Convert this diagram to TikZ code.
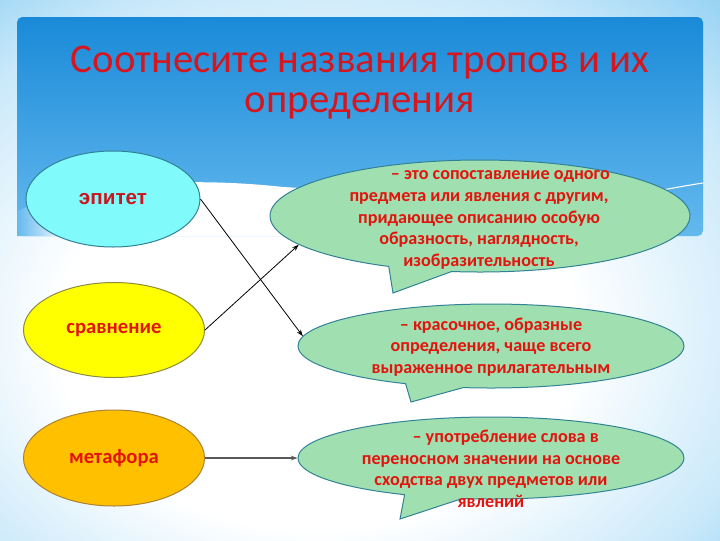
\documentclass[tikz,border=0pt]{standalone}
\usepackage{fontspec}
\setmainfont{Carlito}
\newfontfamily\arialish{Liberation Sans}
\usetikzlibrary{shapes.geometric,shapes.callouts,arrows.meta}

\definecolor{titlered}{RGB}{214,22,30}
\definecolor{txtred}{RGB}{226,20,14}
\definecolor{epred}{RGB}{200,22,32}
\definecolor{bgblue}{RGB}{92,186,236}
\definecolor{bgmid}{RGB}{200,232,250}
\definecolor{bandtop}{RGB}{26,138,216}
\definecolor{bandlow}{RGB}{100,185,238}
\definecolor{epcyan}{RGB}{128,250,250}
\definecolor{cmpyel}{RGB}{255,255,0}
\definecolor{metorange}{RGB}{255,192,0}
\definecolor{defgreen}{RGB}{160,224,176}
\definecolor{edgeteal}{RGB}{50,130,150}
\definecolor{edgeolive}{RGB}{140,140,60}
\definecolor{edgeamber}{RGB}{170,130,50}

\pgfdeclareradialshading{bgshade}{\pgfpoint{-4bp}{-8bp}}{color(0bp)=(white); color(18bp)=(white); color(32bp)=(bgmid); color(48bp)=(bgblue); color(72bp)=(bgblue)}
\pgfdeclarehorizontalshading{waveshade}{100bp}{color(0bp)=(bandlow); color(25bp)=(bandlow); color(29bp)=(white); color(100bp)=(white)}

\tikzset{
  trope/.style={ellipse, draw, line width=0.75pt, text=txtred, inner sep=0pt,
    font=\bfseries\fontsize{15.5}{17}\selectfont},
  defn/.style={ellipse callout, draw=edgeteal, fill=defgreen, line width=0.75pt,
    inner sep=0pt, callout pointer arc=18},
  deftext/.style={align=center, text=txtred, inner sep=0pt,
    font=\bfseries\fontsize{13.6}{16.2}\selectfont},
  conn/.style={line width=0.6pt, draw=black, -{Stealth[length=5pt,width=3.5pt]}},
  connb/.style={line width=1.1pt, draw=black!65, -{Stealth[length=5pt,width=3.5pt]}}
}

\begin{document}
\begin{tikzpicture}[x=0.75pt,y=-0.75pt]
\useasboundingbox (0,0) rectangle (720,540);
\shade[shading=bgshade] (0,0) rectangle (720,540);

% top band
\shade[top color=bandtop, bottom color=bandlow, rounded corners=4] (17,17) rectangle (703,236);
\shade[shading=waveshade] (17,236) -- (17,212) .. controls (60,186) and (200,170) .. (330,194)
   .. controls (440,214) and (560,236) .. (650,236) -- cycle;
\draw[white, line width=0.8pt] (215,186) .. controls (330,186) and (420,200) .. (470,207);
\draw[white, line width=0.8pt] (570,210) .. controls (620,198) and (670,188) .. (703,183);

\node[font=\fontsize{30.6}{30}\selectfont, text=titlered, align=center] (title) at (360,83)
  {Соотнесите названия тропов и их\\определения};

% left ellipses
\node[trope, draw=edgeteal, fill=epcyan, minimum width=130.5pt, minimum height=72pt,
      text=epred, font=\arialish\bfseries\fontsize{15.5}{17}\selectfont] (e1) at (113,199) {эпитет};
\node[trope, draw=edgeolive, fill=cmpyel, minimum width=135.75pt, minimum height=71.25pt] (e2) at (114,330) {сравнение};
\node[trope, draw=edgeamber, fill=metorange, minimum width=135.75pt, minimum height=72pt] (e3) at (114,458) {метафора};

% callouts
\node[defn, minimum width=315pt, minimum height=84pt, callout absolute pointer={(393,293)}] (c1) at (480,216) {};
\node[defn, minimum width=289.5pt, minimum height=63pt, callout absolute pointer={(411,402)}] (c2) at (491,346) {};
\node[defn, minimum width=289.5pt, minimum height=61.5pt, callout absolute pointer={(400,519)}] (c3) at (491,458) {};

\node[deftext] (t1) at (479,220) {\hspace*{32pt}– это сопоставление одного\\предмета или явления с другим,\\придающее описанию особую\\образность, наглядность,\\изобразительность};
\node[deftext] (t2) at (491,347) {– красочное, образные\\определения, чаще всего\\выраженное прилагательным};
\node[deftext] (t3) at (491,469) {\hspace*{22pt}– употребление слова в\\переносном значении на основе\\сходства двух предметов или\\явлений};

% connectors
\draw[conn] (e1.east) -- (c2.177);
\draw[conn] (e2.east) -- (c1.189);
\draw[connb] (e3.east) -- (c3.west);
\end{tikzpicture}
\end{document}
